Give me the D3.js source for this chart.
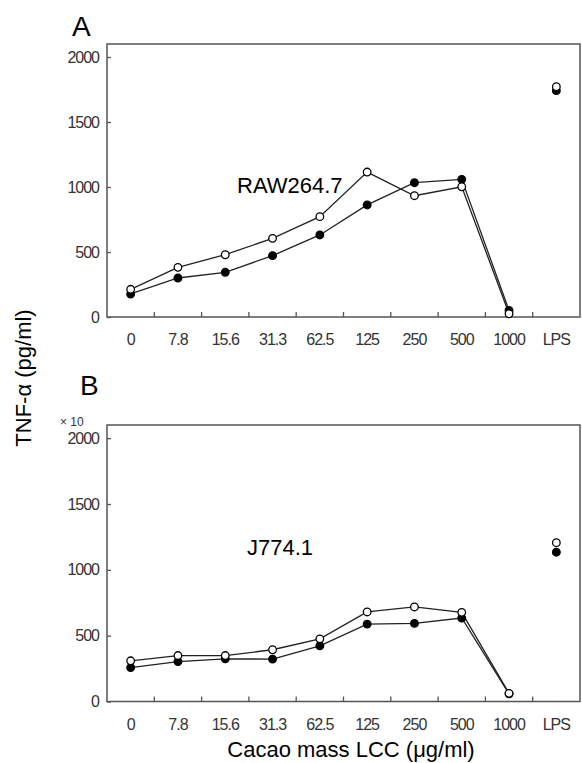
<!DOCTYPE html>
<html>
<head>
<meta charset="utf-8">
<script src="https://cdn.jsdelivr.net/npm/d3@7"></script>
<style>
  body { margin: 0; background: #fff; }
  svg text { font-family: Arial, "Liberation Sans", sans-serif; }
</style>
</head>
<body>
<div id="chart"></div>
<script>
// categories along x (doses of cacao mass LCC, then LPS control)
var categories = ["0", "7.8", "15.6", "31.3", "62.5", "125", "250", "500", "1000", "LPS"];
var yTicks = [0, 500, 1000, 1500, 2000];

// panel A, RAW264.7
var rawOpen   = [213, 382, 479, 605, 772, 1115, 933, 1002, 25, 1772];
var rawFilled = [177, 300, 344, 472, 631, 862, 1033, 1059, 50, 1741];

// panel B, J774.1 (x 10)
var jOpen   = [309, 349, 349, 393, 476, 680, 718, 677, 62, 1206];
var jFilled = [258, 303, 324, 322, 423, 588, 593, 634, 58, 1134];

var width = 582, height = 763;

var svg = d3.select("#chart").append("svg")
  .attr("width", width)
  .attr("height", height);

var x = d3.scaleBand()
  .domain(categories)
  .range([107, 580])
  .padding(0);

var line = d3.line();

function panel(opts) {
  var y = d3.scaleLinear()
    .domain([0, 2100])
    .range([opts.bottom, opts.top]);

  var g = svg.append("g");

  // frame
  g.append("rect")
    .attr("x", 107).attr("y", opts.top)
    .attr("width", 580 - 107).attr("height", opts.bottom - opts.top)
    .attr("fill", "none")
    .attr("stroke", "#555")
    .attr("stroke-width", 1.5);

  // x labels
  var xa = g.append("g")
    .attr("transform", "translate(0," + opts.bottom + ")")
    .call(d3.axisBottom(x).tickSize(0).tickPadding(17));
  xa.select(".domain").remove();
  xa.selectAll("text")
    .attr("font-size", 16)
    .attr("fill", "#333")
    .style("letter-spacing", "-1px");

  // x ticks at category boundaries
  g.selectAll(".bt")
    .data(categories.slice(1))
    .enter().append("line")
      .attr("x1", function(d){ return x(d); })
      .attr("x2", function(d){ return x(d); })
      .attr("y1", opts.bottom)
      .attr("y2", opts.bottom - 5)
      .attr("stroke", "#555")
      .attr("stroke-width", 1.3);

  // y axis
  var ya = g.append("g")
    .attr("transform", "translate(107,0)")
    .call(d3.axisLeft(y).tickValues(yTicks).tickFormat(d3.format("d"))
      .tickSizeInner(-4).tickSizeOuter(0).tickPadding(8));
  ya.select(".domain").remove();
  ya.selectAll("line").attr("stroke", "#555").attr("stroke-width", 1.3);
  ya.selectAll("text")
    .attr("font-size", 16)
    .attr("fill", "#333")
    .style("letter-spacing", "-1px");

  function pts(vals) {
    return vals.slice(0, 9).map(function(v, i){
      return [x(categories[i]) + x.bandwidth() / 2, y(v)];
    });
  }

  [opts.filled, opts.open].forEach(function(s){
    g.append("path")
      .attr("d", line(pts(s)))
      .attr("fill", "none")
      .attr("stroke", "#222")
      .attr("stroke-width", 1.3);
  });

  [[opts.filled, "#000"], [opts.open, "#fff"]].forEach(function(s){
    g.selectAll(null)
      .data(s[0])
      .enter().append("circle")
        .attr("cx", function(d, i){ return x(categories[i]) + x.bandwidth() / 2; })
        .attr("cy", function(d){ return y(d); })
        .attr("r", 3.8)
        .attr("fill", s[1])
        .attr("stroke", "#000")
        .attr("stroke-width", 1.3);
  });

  // panel letter and cell line name
  g.append("text")
    .attr("x", opts.letterX).attr("y", opts.letterY)
    .attr("font-size", 28)
    .text(opts.letter);

  g.append("text")
    .attr("x", opts.nameX).attr("y", opts.nameY)
    .attr("font-size", 22)
    .text(opts.name);

  return g;
}

panel({
  top: 44, bottom: 317,
  open: rawOpen, filled: rawFilled,
  letter: "A", letterX: 72, letterY: 36,
  name: "RAW264.7", nameX: 237, nameY: 193
});

var pb = panel({
  top: 425, bottom: 701.5,
  open: jOpen, filled: jFilled,
  letter: "B", letterX: 80, letterY: 395,
  name: "J774.1", nameX: 247, nameY: 555
});

pb.append("text")
  .attr("x", 60).attr("y", 426)
  .attr("font-size", 12)
  .attr("fill", "#333")
  .text("\u00d7 10");

// axis titles
svg.append("text")
  .attr("transform", "translate(31,378) rotate(-90)")
  .attr("text-anchor", "middle")
  .attr("font-size", 22)
  .text("TNF-\u03b1 (pg/ml)");

svg.append("text")
  .attr("x", 351).attr("y", 757)
  .attr("text-anchor", "middle")
  .attr("font-size", 22)
  .text("Cacao mass LCC (\u03bcg/ml)");
</script>
</body>
</html>
